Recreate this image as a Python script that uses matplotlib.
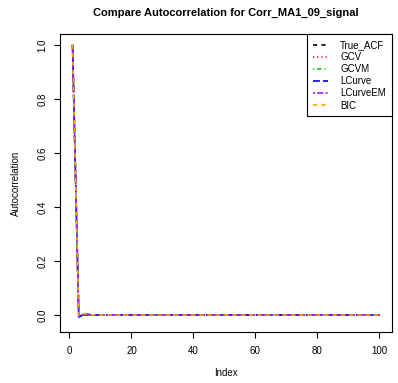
import matplotlib

matplotlib.use("Agg")
import matplotlib.pyplot as plt
import numpy as np

plt.rcParams.update(
    {
        "font.family": "Liberation Sans",
        "font.size": 7,
        "axes.linewidth": 0.8,
        "xtick.major.width": 0.8,
        "ytick.major.width": 0.8,
        "xtick.major.size": 4,
        "ytick.major.size": 4,
        "lines.scale_dashes": False,
    }
)

# lag index 1..100
index = np.arange(1, 101)

# values: everything past lag 3 sits on zero
true_acf = [1.0, 0.497] + [0.0] * 98
gcv = [1.0, 0.495, -0.003, 0.001, 0.002, 0.001] + [0.0] * 94
gcvm = [1.0, 0.494, -0.004, 0.0, 0.002, 0.001] + [0.0] * 94
lcurve = [1.0, 0.490, -0.008, -0.002, 0.001, 0.002] + [0.0] * 94
lcurve_em = [1.0, 0.492, -0.005, 0.0, 0.003, 0.002] + [0.0] * 94
bic = [1.0, 0.496, -0.002, 0.002, 0.005, 0.004] + [0.0] * 94

SERIES = [
    ("True_ACF", true_acf, "black", (0, (3, 3))),
    ("GCV", gcv, "red", (0, (0.8, 2.2))),
    ("GCVM", gcvm, "#00CD00", (0, (0.8, 2.2, 3, 2.2))),
    ("LCurve", lcurve, "blue", (0, (5, 2.2))),
    ("LCurveEM", lcurve_em, "#A020F0", (0, (1.5, 1.5, 4.5, 1.5))),
    ("BIC", bic, "orange", (0, (3, 3))),
]

fig = plt.figure(figsize=(3.98, 3.83), dpi=100)
ax = fig.add_axes([0.1515, 0.134, 0.8325, 0.777])

for label, vals, color, ls in SERIES:
    ax.plot(index, vals, color=color, linestyle=ls, linewidth=1.2, label=label)

ax.set_xlim(-2.96, 103.96)
ax.set_ylim(-0.062, 1.04)
ax.set_xticks([0, 20, 40, 60, 80, 100])
ax.set_yticks([0.0, 0.2, 0.4, 0.6, 0.8, 1.0])
ax.set_yticklabels(["0.0", "0.2", "0.4", "0.6", "0.8", "1.0"], rotation=90, va="center")
ax.tick_params(axis="x", pad=6)
ax.tick_params(axis="y", pad=5)

ax.set_xlabel("Index", labelpad=9)
ax.set_ylabel("Autocorrelation", labelpad=12)
ax.set_title(
    "Compare Autocorrelation for Corr_MA1_09_signal",
    fontsize=8,
    fontweight="bold",
    pad=13,
)

leg = ax.legend(
    loc="upper right",
    borderaxespad=0,
    fancybox=False,
    framealpha=1,
    edgecolor="black",
    fontsize=7,
    handlelength=1.6,
    handletextpad=1.2,
    labelspacing=0.22,
    borderpad=0.6,
)
leg.get_frame().set_linewidth(0.8)

fig.savefig("out.png", dpi=100)
